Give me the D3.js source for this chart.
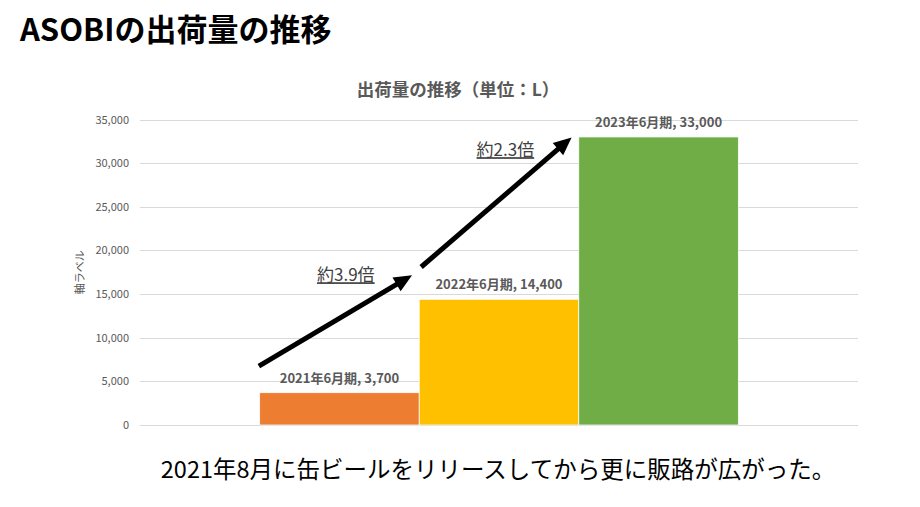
<!DOCTYPE html>
<html>
<head>
<meta charset="utf-8">
<script src="https://cdn.jsdelivr.net/npm/d3@7"></script>
<style>
  body { margin: 0; background: #fff; }
  text { font-family: "Noto Sans CJK JP", "Noto Sans", sans-serif; }
</style>
</head>
<body>
<div id="chart"></div>
<script>
// data
var categories = ["2021年6月期", "2022年6月期", "2023年6月期"];
var shipments = [3700, 14400, 33000];
var barColors = ["#ED7D31", "#FFC000", "#70AD47"];
var yTicks = [0, 5000, 10000, 15000, 20000, 25000, 30000, 35000];
var growthLabels = ["約3.9倍", "約2.3倍"];

var width = 920, height = 507;
var margin = { top: 119.5, right: 62, bottom: 82, left: 140 };

var svg = d3.select("#chart")
  .append("svg")
  .attr("width", width)
  .attr("height", height);

// page title
svg.append("text")
  .attr("x", 20)
  .attr("y", 41)
  .style("font-size", "31px")
  .style("font-weight", "bold")
  .style("fill", "#000")
  .text("ASOBIの出荷量の推移");

// chart title
svg.append("text")
  .attr("x", 458)
  .attr("y", 96)
  .attr("text-anchor", "middle")
  .style("font-size", "17.5px")
  .style("font-weight", "bold")
  .style("fill", "#595959")
  .text("出荷量の推移（単位：L）");

// one category, three series side by side (like excel gap width 150%)
var x = d3.scaleBand()
  .domain(categories)
  .range([margin.left, width - margin.right])
  .paddingInner(0)
  .paddingOuter(0.75);

var y = d3.scaleLinear()
  .domain([0, 35000])
  .range([height - margin.bottom, margin.top]);

// grid
svg.append("g")
  .selectAll("line")
  .data(yTicks)
  .enter().append("line")
  .attr("x1", margin.left)
  .attr("x2", width - margin.right)
  .attr("y1", function (d) { return Math.round(y(d)) + 0.5; })
  .attr("y2", function (d) { return Math.round(y(d)) + 0.5; })
  .style("stroke", "#d9d9d9")
  .style("stroke-width", 1);

// y axis labels
var yAxis = svg.append("g")
  .attr("transform", "translate(" + margin.left + ",0)")
  .call(d3.axisLeft(y).tickValues(yTicks).tickFormat(d3.format(",")).tickSize(0).tickPadding(11));
yAxis.select(".domain").remove();
yAxis.selectAll("text")
  .style("font-family", '"Noto Sans CJK JP", sans-serif')
  .style("font-size", "11px")
  .style("fill", "#595959");

svg.append("text")
  .attr("transform", "translate(84," + (margin.top + (height - margin.bottom - margin.top) / 2) + ") rotate(-90)")
  .attr("text-anchor", "middle")
  .style("font-size", "11px")
  .style("fill", "#595959")
  .text("軸ラベル");

// bars
svg.append("g")
  .selectAll("rect")
  .data(shipments)
  .enter().append("rect")
  .attr("x", function (d, i) { return x(categories[i]); })
  .attr("y", function (d) { return y(d); })
  .attr("width", x.bandwidth())
  .attr("height", function (d) { return y(0) - y(d); })
  .style("fill", function (d, i) { return barColors[i]; })
  .style("stroke", "#fff")
  .style("stroke-width", 0.75);

// data labels
svg.append("g")
  .selectAll("text")
  .data(shipments)
  .enter().append("text")
  .attr("x", function (d, i) { return x(categories[i]) + x.bandwidth() / 2; })
  .attr("y", function (d) { return y(d) - 10; })
  .attr("text-anchor", "middle")
  .style("font-size", "13px")
  .style("font-weight", "bold")
  .style("fill", "#595959")
  .text(function (d, i) { return categories[i] + ", " + d3.format(",")(d); });

// growth arrows: anchored on bars (band index + fraction of step) and values
var step = x.step();
function px(i, f) { return x(categories[i]) + f * step; }
var arrows = [
  { x1: px(0, -0.005), y1: y(6750), x2: px(1, -0.045), y2: y(17150) },
  { x1: px(1, 0.012), y1: y(18100), x2: px(2, -0.045), y2: y(32950) }
];

arrows.forEach(function (a) {
  var dx = a.x2 - a.x1, dy = a.y2 - a.y1;
  var len = Math.sqrt(dx * dx + dy * dy);
  var ux = dx / len, uy = dy / len;
  var headLen = 18, headW = 8;
  var bx = a.x2 - ux * headLen, by = a.y2 - uy * headLen;
  svg.append("line")
    .attr("x1", a.x1).attr("y1", a.y1)
    .attr("x2", bx + ux * 2).attr("y2", by + uy * 2)
    .style("stroke", "#000")
    .style("stroke-width", 5);
  svg.append("path")
    .attr("d", "M" + a.x2 + "," + a.y2 +
      "L" + (bx - uy * headW) + "," + (by + ux * headW) +
      "L" + (bx + uy * headW) + "," + (by - ux * headW) + "Z")
    .style("fill", "#000");
});

// growth labels
var labelPos = [
  { x: px(0, 0.54), y: y(16470) },
  { x: px(1, 0.54), y: y(30800) }
];
growthLabels.forEach(function (t, i) {
  svg.append("text")
    .attr("x", labelPos[i].x)
    .attr("y", labelPos[i].y)
    .attr("text-anchor", "middle")
    .style("font-size", "17px")
    .style("fill", "#404040")
    .style("text-decoration", "underline")
    .text(t);
});

// footnote
svg.append("text")
  .attr("x", 498)
  .attr("y", 478)
  .attr("text-anchor", "middle")
  .style("font-size", "23.5px")
  .style("fill", "#000")
  .text("2021年8月に缶ビールをリリースしてから更に販路が広がった。");
</script>
</body>
</html>
